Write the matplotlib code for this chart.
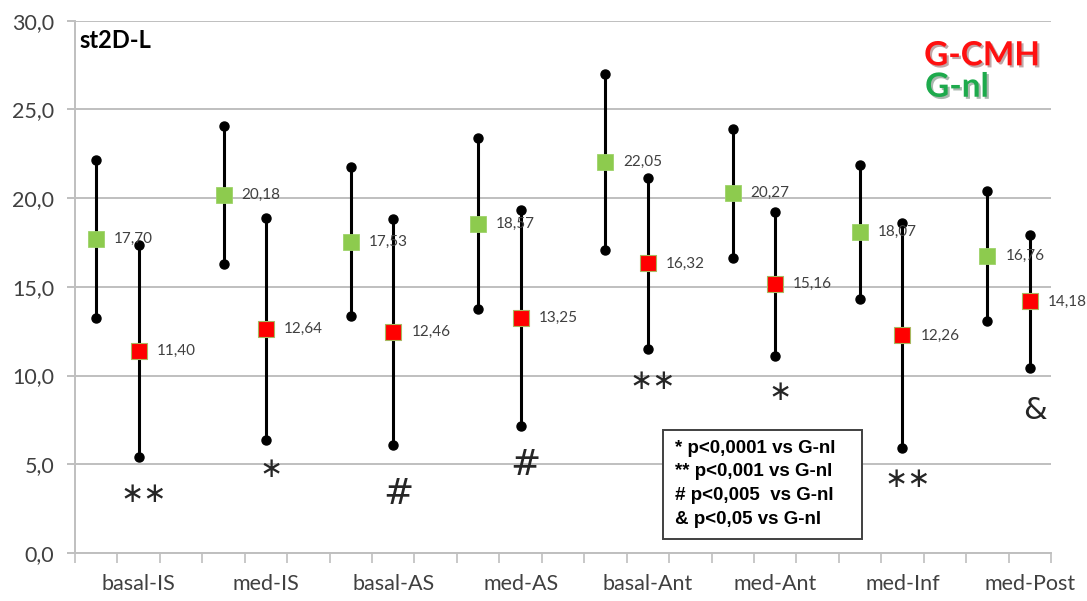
import matplotlib
matplotlib.use("Agg")
import matplotlib.pyplot as plt
import matplotlib.patheffects as pe
from matplotlib.patches import Rectangle
import numpy as np

# ---- data ----
categories = ["basal-IS", "med-IS", "basal-AS", "med-AS",
              "basal-Ant", "med-Ant", "med-Inf", "med-Post"]
gnl_mean = [17.70, 20.18, 17.53, 18.57, 22.05, 20.27, 18.07, 16.76]
gnl_sd = [4.43, 3.87, 4.20, 4.82, 4.97, 3.63, 3.78, 3.66]
cmh_mean = [11.40, 12.64, 12.46, 13.25, 16.32, 15.16, 12.26, 14.18]
cmh_sd = [5.97, 6.25, 6.38, 6.10, 4.80, 4.05, 6.32, 3.76]
sig_labels = ["\u2217\u2217", "\u2217", "#", "#", "\u2217\u2217", "\u2217", "\u2217\u2217", "&"]
sig_y = [3.35, 4.75, 3.35, 4.95, 9.7, 9.1, 4.15, 8.05]
legend_lines = ["* p<0,0001 vs G-nl", "** p<0,001 vs G-nl",
                "# p<0,005  vs G-nl", "& p<0,05 vs G-nl"]
yticks = [0, 5, 10, 15, 20, 25, 30]
title = "st2D-L"

def fmt(v):
    return f"{v:.2f}".replace(".", ",")

# ---- figure ----
fig = plt.figure(figsize=(10.87, 6.01), dpi=100)
ax = fig.add_axes([75 / 1087, 1 - 553 / 601, 976 / 1087, (553 - 20.7) / 601])

n = len(categories)
x_g = np.arange(n) * 3
x_r = np.arange(n) * 3 + 1
gm, gs = np.array(gnl_mean), np.array(gnl_sd)
cm, cs = np.array(cmh_mean), np.array(cmh_sd)

grid_c = "#BFBFBF"
txt_c = "#404040"

ax.set_xlim(-0.5, 3 * n - 1.5)
ax.set_ylim(0, 30)
ax.set_yticks(yticks)
ax.set_yticklabels([f"{v:.1f}".replace(".", ",") for v in yticks])
ax.yaxis.grid(True, color=grid_c, linewidth=1.4, zorder=0)
ax.set_axisbelow(True)
for s in ["top", "right"]:
    ax.spines[s].set_visible(False)
for s in ["left", "bottom"]:
    ax.spines[s].set_color(grid_c)
    ax.spines[s].set_linewidth(1.4)

ax.set_xticks(x_r)
ax.set_xticklabels(categories)
ax.set_xticks(np.arange(-0.5, 3 * n - 1.0, 1.0), minor=True)
ax.tick_params(axis="x", which="major", length=0, pad=15, labelsize=15.5,
               labelcolor=txt_c)
ax.tick_params(axis="x", which="minor", length=7, width=1.2, color=grid_c,
               direction="out")
ax.tick_params(axis="y", length=6, width=1.4, color=grid_c, pad=9,
               labelsize=15.5, labelcolor=txt_c)
for lab in ax.get_xticklabels() + ax.get_yticklabels():
    lab.set_family("Lato")

# error bars
for xs, m, s in [(x_g, gm, gs), (x_r, cm, cs)]:
    ax.vlines(xs, m - s, m + s, color="black", linewidth=2.2, zorder=3)
    ax.plot(xs, m - s, "o", color="black", markersize=6.5, zorder=4)
    ax.plot(xs, m + s, "o", color="black", markersize=6.5, zorder=4)

ax.plot(x_g, gm, "s", color="#8DCB4E", markeredgecolor="#9ED36A",
        markeredgewidth=0.6, markersize=12, linestyle="none", zorder=5)
ax.plot(x_r, cm, "s", color="#FF0000", markeredgecolor="#A8B860",
        markeredgewidth=0.8, markersize=11.5, linestyle="none", zorder=5)

for xs, m in [(x_g, gm), (x_r, cm)]:
    for xi, v in zip(xs, m):
        ax.annotate(fmt(v), (xi, v), xytext=(13, 0), textcoords="offset points",
                    va="center", ha="left", fontsize=11, color=txt_c,
                    family="Lato", zorder=6)

# significance marks
for xi, lab, yv in zip(x_r, sig_labels, sig_y):
    if lab.startswith("\u2217"):
        fs = 20
    elif lab == "#":
        fs = 26
    else:
        fs = 22
    ax.text(xi + 0.12, yv, lab, ha="center", va="center", fontsize=fs,
            color="#262626", family=["DejaVu Sans"], zorder=6)

# title
ax.text(0.005, 0.963, title, transform=ax.transAxes, ha="left", va="center",
        fontsize=17, fontweight="bold", family="Lato", color="black")

# group labels
shadow = [pe.SimplePatchShadow(offset=(1.5, -1.5), alpha=0.35), pe.Normal()]
ax.text(0.870, 0.934, "G-CMH", transform=ax.transAxes, ha="left", va="center",
        fontsize=24, fontweight="bold", family="Lato", color="#FF1010",
        path_effects=shadow)
ax.text(0.871, 0.875, "G-nl", transform=ax.transAxes, ha="left", va="center",
        fontsize=24, fontweight="bold", family="Lato", color="#1DAA4C",
        path_effects=shadow)

# significance legend box
ax.add_patch(Rectangle((0.6025, 0.0263), 0.2039, 0.2048, transform=ax.transAxes,
                       facecolor="white", edgecolor="#404040", linewidth=1.4,
                       zorder=7))
for i, line in enumerate(legend_lines):
    ax.text(0.6150, 0.197 - i * 0.0445, line, transform=ax.transAxes,
            ha="left", va="center", fontsize=13.5, fontweight="bold",
            family="Liberation Sans", color="black", zorder=8)

fig.savefig("out.png", dpi=100, facecolor="white")
